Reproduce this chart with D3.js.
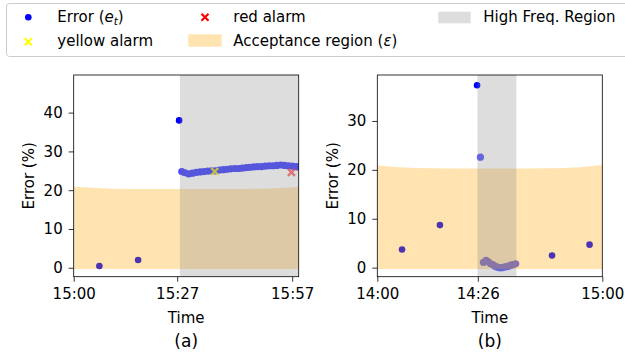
<!DOCTYPE html>
<html lang="en">
<head>
    <meta charset="UTF-8">
    <title>Error and alarms</title>
    <style>
        body { margin: 0; background: #fff; }
        text { font-family: "DejaVu Sans", sans-serif; }
    </style>
</head>
<body>
    <script src="https://d3js.org/d3.v7.min.js"></script>
    <div id="container"></div>
    <script>
        // ---- panel (a): minutes after 15:00 ----
        var aLowTime = [6.7, 16.8, 27.5];
        var aLowErr = [0.45, 2.0, 38.0];
        var aHighTime = [28.2, 29.0, 30.0, 31.0, 32.0, 33.0, 34.0, 35.0, 36.0, 37.0, 38.0, 39.0, 40.0, 41.0, 42.0,
            43.0, 44.0, 45.0, 46.0, 47.0, 48.0, 49.0, 50.0, 51.0, 52.0, 53.0, 54.0, 55.0, 56.0, 57.0, 58.0, 58.6];
        var aHighErr = [24.8, 24.5, 24.2, 24.4, 24.6, 24.7, 24.8, 24.9, 25.0, 25.0, 25.2, 25.3, 25.4, 25.5, 25.6,
            25.6, 25.7, 25.8, 25.9, 26.0, 26.1, 26.1, 26.2, 26.3, 26.3, 26.4, 26.5, 26.4, 26.3, 26.2, 26.1, 26.0];
        var aYellow = [[36.8, 24.8]];
        var aRed = [[56.8, 24.6]];
        var aBandTime = [0, 5, 10, 20, 30, 40, 50, 55, 58.7];
        var aBandTop = [20.9, 20.6, 20.4, 20.3, 20.3, 20.3, 20.4, 20.6, 20.9];
        var aHighFreq = [27.7, 58.7];
        var aTicks = [0, 27, 57];
        var aTickLabels = ['15:00', '15:27', '15:57'];
        var aYTicks = [0, 10, 20, 30, 40];

        // ---- panel (b): minutes after 14:00 ----
        var bLowTime = [6.6, 16.7, 26.6, 46.6, 56.6];
        var bLowErr = [3.7, 8.7, 37.3, 2.5, 4.7];
        var bHighTime = [27.5, 28.3, 29.0, 29.6, 30.2, 30.8, 31.4, 32.0, 32.6, 33.2, 33.8, 34.4, 35.0, 35.6, 36.2, 36.9];
        var bHighErr = [22.6, 1.1, 1.5, 1.2, 0.8, 0.6, 0.3, 0.1, 0.0, 0.0, 0.1, 0.2, 0.3, 0.5, 0.6, 0.8];
        var bBandTime = [0, 5, 10, 20, 30, 40, 50, 55, 60];
        var bBandTop = [20.9, 20.6, 20.4, 20.3, 20.3, 20.3, 20.4, 20.6, 21.0];
        var bHighFreq = [26.7, 37.1];
        var bTicks = [0, 26.8, 60];
        var bTickLabels = ['14:00', '14:26', '15:00'];
        var bYTicks = [0, 10, 20, 30];

        var bandBottom = -0.3;

        var W = 625, H = 356;
        var svg = d3.select('#container').append('svg').attr('width', W).attr('height', H);

        function xMarker(g, cx, cy, s, color, op) {
            g.append('path')
                .attr('d', `M${cx - s},${cy - s}L${cx + s},${cy + s}M${cx - s},${cy + s}L${cx + s},${cy - s}`)
                .attr('stroke', color).attr('stroke-width', 2.2).attr('opacity', op).attr('fill', 'none');
        }

        function drawPanel(p) {
            var x = d3.scaleLinear().domain(p.xDomain).range([p.left, p.right]);
            var y = d3.scaleLinear().domain(p.yDomain).range([p.bottom, p.top]);
            var clipId = 'clip' + p.name;
            svg.append('clipPath').attr('id', clipId).append('rect')
                .attr('x', p.left).attr('y', p.top).attr('width', p.right - p.left).attr('height', p.bottom - p.top);
            var g = svg.append('g').attr('clip-path', `url(#${clipId})`);

            g.selectAll('.low').data(p.lowTime).enter().append('circle')
                .attr('cx', d => x(d)).attr('cy', (d, i) => y(p.lowErr[i]))
                .attr('r', 3.3).attr('fill', 'blue');
            // dense high-frequency samples: one translucent group so overlaps stay even
            g.append('g').attr('opacity', p.highAlpha)
                .selectAll('circle').data(p.highTime).enter().append('circle')
                .attr('cx', d => x(d)).attr('cy', (d, i) => y(p.highErr[i]))
                .attr('r', 3.6).attr('fill', 'blue');
            (p.yellow || []).forEach(d => xMarker(g, x(d[0]), y(d[1]), 3.5, 'yellow', 0.8));
            (p.red || []).forEach(d => xMarker(g, x(d[0]), y(d[1]), 3.5, '#ff3030', 0.7));

            var area = d3.area().curve(d3.curveMonotoneX)
                .x(d => x(d[0])).y0(y(bandBottom)).y1(d => y(d[1]));
            g.append('path').datum(p.bandTime.map((t, i) => [t, p.bandTop[i]]))
                .attr('d', area).attr('fill', 'orange').attr('opacity', 0.3);

            g.append('rect').attr('x', x(p.highFreq[0])).attr('y', p.top)
                .attr('width', x(p.highFreq[1]) - x(p.highFreq[0])).attr('height', p.bottom - p.top)
                .attr('fill', '#808080').attr('opacity', 0.27);

            var xAxis = svg.append('g').attr('transform', `translate(0,${p.bottom})`)
                .call(d3.axisBottom(x).tickValues(p.ticks).tickFormat((d, i) => p.tickLabels[i]).tickSize(5).tickPadding(7));
            var yAxis = svg.append('g').attr('transform', `translate(${p.left},0)`)
                .call(d3.axisLeft(y).tickValues(p.yTicks).tickSize(5).tickPadding(6));
            [xAxis, yAxis].forEach(a => {
                a.select('.domain').remove();
                a.selectAll('text').attr('font-size', 15).attr('fill', '#000').attr('font-family', 'DejaVu Sans');
                a.selectAll('line').attr('stroke', '#000').attr('stroke-width', 0.8);
            });

            svg.append('rect').attr('x', p.left).attr('y', p.top)
                .attr('width', p.right - p.left).attr('height', p.bottom - p.top)
                .attr('fill', 'none').attr('stroke', '#000').attr('stroke-width', 0.8);

            var cx = (p.left + p.right) / 2;
            svg.append('text').attr('x', cx).attr('y', 323).attr('text-anchor', 'middle')
                .attr('font-size', 15).text('Time');
            svg.append('text').attr('x', cx).attr('y', 347).attr('text-anchor', 'middle')
                .attr('font-size', 17).text(p.caption);
            svg.append('text').attr('transform', `translate(${p.left - 39.5},${(p.top + p.bottom) / 2}) rotate(-90)`)
                .attr('text-anchor', 'middle').attr('font-size', 15).text('Error (%)');
        }

        drawPanel({
            name: 'a', left: 73.7, right: 298.7, top: 75, bottom: 276.7,
            xDomain: [0, 58.7], yDomain: [-2.3, 49.7], highAlpha: 0.72,
            lowTime: aLowTime, lowErr: aLowErr, highTime: aHighTime, highErr: aHighErr,
            yellow: aYellow, red: aRed, bandTime: aBandTime, bandTop: aBandTop,
            highFreq: aHighFreq, ticks: aTicks, tickLabels: aTickLabels, yTicks: aYTicks, caption: '(a)'
        });
        drawPanel({
            name: 'b', left: 377.3, right: 602.3, top: 75, bottom: 276.7,
            xDomain: [0, 60], yDomain: [-1.85, 39.4], highAlpha: 0.64,
            lowTime: bLowTime, lowErr: bLowErr, highTime: bHighTime, highErr: bHighErr,
            bandTime: bBandTime, bandTop: bBandTop,
            highFreq: bHighFreq, ticks: bTicks, tickLabels: bTickLabels, yTicks: bYTicks, caption: '(b)'
        });

        // legend
        var lg = svg.append('g');
        lg.append('rect').attr('x', 6.5).attr('y', 3.5).attr('width', 630).attr('height', 53)
            .attr('rx', 3).attr('fill', '#fff').attr('stroke', '#cccccc').attr('stroke-width', 1);
        lg.append('circle').attr('cx', 28.3).attr('cy', 17.3).attr('r', 3.3).attr('fill', 'blue');
        xMarker(lg, 28.3, 41.7, 3.5, 'yellow', 1);
        xMarker(lg, 205, 17.3, 3.5, 'red', 1);
        lg.append('rect').attr('x', 188.3).attr('y', 34.3).attr('width', 33.4).attr('height', 12.4)
            .attr('fill', 'orange').attr('opacity', 0.3);
        lg.append('rect').attr('x', 438.3).attr('y', 11.7).attr('width', 32.4).attr('height', 11.6)
            .attr('fill', '#808080').attr('opacity', 0.27);

        var t1 = lg.append('text').attr('x', 57.3).attr('y', 21.7).attr('font-size', 15);
        t1.append('tspan').text('Error (');
        t1.append('tspan').attr('font-style', 'italic').text('e');
        t1.append('tspan').attr('font-style', 'italic').attr('font-size', 10.5).attr('dy', 3).text('t');
        t1.append('tspan').attr('dy', -3).text(')');
        lg.append('text').attr('x', 57.3).attr('y', 45.9).attr('font-size', 15).text('yellow alarm');
        lg.append('text').attr('x', 233.3).attr('y', 21.7).attr('font-size', 15).text('red alarm');
        var t2 = lg.append('text').attr('x', 233.3).attr('y', 45.9).attr('font-size', 15);
        t2.append('tspan').text('Acceptance region (');
        t2.append('tspan').attr('font-style', 'italic').text('ε');
        t2.append('tspan').text(')');
        lg.append('text').attr('x', 483.3).attr('y', 21.7).attr('font-size', 15).text('High Freq. Region');
    </script>
</body>
</html>
